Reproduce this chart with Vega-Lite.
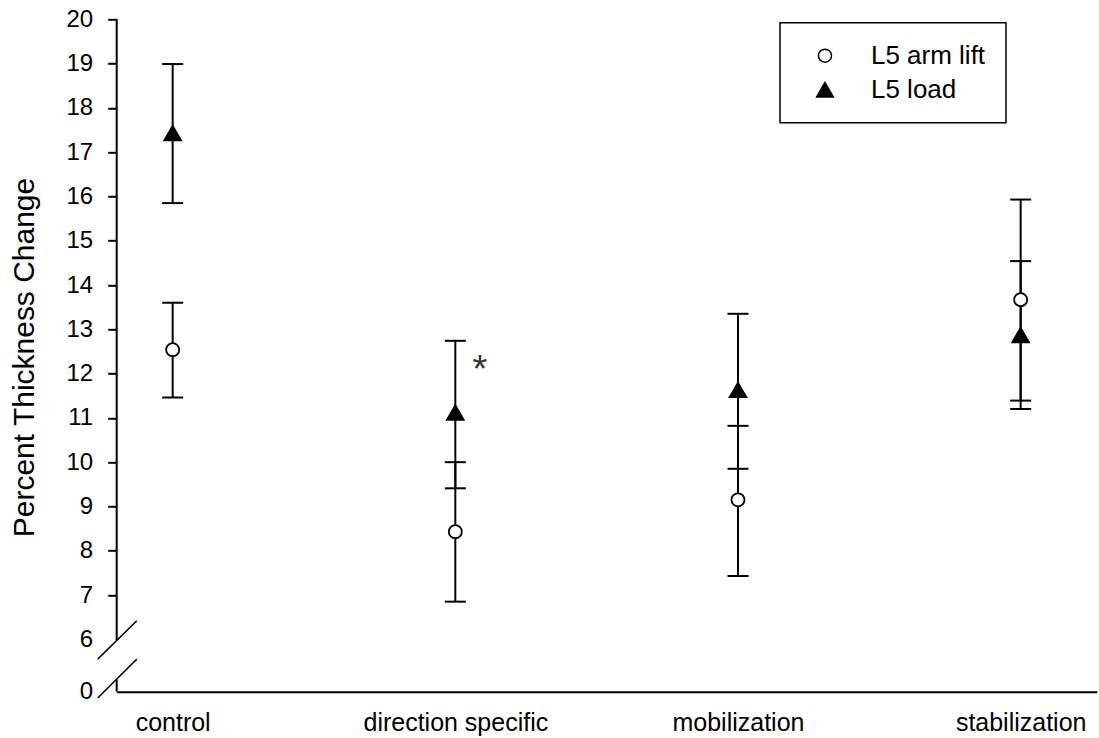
{
  "$schema": "https://vega.github.io/schema/vega-lite/v6.json",
  "width": 980,
  "height": 672.4,
  "autosize": {"type": "none"},
  "padding": {"left": 116.7, "top": 19.3, "right": 2, "bottom": 46.3},
  "background": "white",
  "config": {
    "view": {"stroke": null},
    "font": "Liberation Sans",
    "axis": {"grid": false},
    "legend": {"strokeWidth": 1.5}
  },
  "datasets": {
    "stats": [
      {"group": "control", "pos": 1, "series": "L5 arm lift", "mean": 12.54, "lower": 11.46, "upper": 13.60},
      {"group": "control", "pos": 1, "series": "L5 load", "mean": 17.43, "lower": 15.85, "upper": 18.99},
      {"group": "direction specific", "pos": 2, "series": "L5 arm lift", "mean": 8.43, "lower": 6.85, "upper": 10.00},
      {"group": "direction specific", "pos": 2, "series": "L5 load", "mean": 11.12, "lower": 9.41, "upper": 12.74},
      {"group": "mobilization", "pos": 3, "series": "L5 arm lift", "mean": 9.15, "lower": 7.43, "upper": 10.82},
      {"group": "mobilization", "pos": 3, "series": "L5 load", "mean": 11.63, "lower": 9.85, "upper": 13.35},
      {"group": "stabilization", "pos": 4, "series": "L5 arm lift", "mean": 13.67, "lower": 11.39, "upper": 15.93},
      {"group": "stabilization", "pos": 4, "series": "L5 load", "mean": 12.87, "lower": 11.20, "upper": 14.54}
    ],
    "axisLine": [
      {"x": 0.802, "y": 5.97, "y2": 20},
      {"x": 0.802, "y": 4.817, "y2": 5.095}
    ],
    "breaks": [
      {"x": 0.735, "x2": 0.873, "y": 5.553, "y2": 6.418},
      {"x": 0.735, "x2": 0.873, "y": 4.673, "y2": 5.553}
    ],
    "notes": [
      {"pos": 2.087, "value": 11.8, "text": "*"}
    ]
  },
  "layer": [
    {
      "data": {"name": "stats"},
      "mark": {"type": "rule", "strokeWidth": 2, "color": "black"},
      "encoding": {
        "x": {
          "field": "pos", "type": "quantitative", "title": null,
          "scale": {"domain": [0.802, 4.269], "nice": false, "zero": false},
          "axis": {
            "values": [1, 2, 3, 4],
            "labelExpr": "['', 'control', 'direction specific', 'mobilization', 'stabilization'][datum.value]",
            "title": null, "ticks": false, "tickSize": 0, "labelPadding": 19,
            "labelFontSize": 25, "labelColor": "black", "labelFlush": false, "labelLimit": 500,
            "domainColor": "black", "domainWidth": 2
          }
        },
        "y": {
          "field": "lower", "type": "quantitative", "title": "Percent Thickness Change",
          "scale": {"domain": [4.817, 20], "nice": false, "zero": false},
          "axis": {
            "values": [4.817, 6, 7, 8, 9, 10, 11, 12, 13, 14, 15, 16, 17, 18, 19, 20],
            "format": "d",
            "labelExpr": "datum.value < 5 ? '0' : datum.label",
            "domain": false, "tickSize": 9, "tickWidth": 2, "tickColor": "black",
            "tickOpacity": {"condition": {"test": "datum.value < 6.5", "value": 0}, "value": 1},
            "labelPadding": 15, "labelFontSize": 24, "labelColor": "black", "labelOverlap": false,
            "title": "Percent Thickness Change", "titleFontSize": 30, "titleFontWeight": "normal",
            "titleColor": "black", "titleX": -92, "titleY": 337.7, "titleAngle": -90,
            "titleAlign": "center", "titleBaseline": "middle", "titleLimit": 700
          }
        },
        "y2": {"field": "upper"}
      }
    },
    {
      "data": {"name": "stats"},
      "mark": {"type": "tick", "orient": "horizontal", "size": 21, "thickness": 2, "color": "black", "opacity": 1},
      "encoding": {
        "x": {"field": "pos", "type": "quantitative", "title": null},
        "y": {"field": "upper", "type": "quantitative", "title": "Percent Thickness Change"}
      }
    },
    {
      "data": {"name": "stats"},
      "mark": {"type": "tick", "orient": "horizontal", "size": 21, "thickness": 2, "color": "black", "opacity": 1},
      "encoding": {
        "x": {"field": "pos", "type": "quantitative", "title": null},
        "y": {"field": "lower", "type": "quantitative", "title": "Percent Thickness Change"}
      }
    },
    {
      "data": {"name": "axisLine"},
      "mark": {"type": "rule", "strokeWidth": 2, "color": "black"},
      "encoding": {
        "x": {"field": "x", "type": "quantitative", "title": null},
        "y": {"field": "y", "type": "quantitative", "title": "Percent Thickness Change"},
        "y2": {"field": "y2"}
      }
    },
    {
      "data": {"name": "breaks"},
      "mark": {"type": "rule", "strokeWidth": 1.5, "color": "black"},
      "encoding": {
        "x": {"field": "x", "type": "quantitative", "title": null},
        "x2": {"field": "x2"},
        "y": {"field": "y", "type": "quantitative", "title": "Percent Thickness Change"},
        "y2": {"field": "y2"}
      }
    },
    {
      "data": {"name": "stats"},
      "mark": {"type": "point", "filled": true, "stroke": "black", "strokeWidth": 1.8, "opacity": 1},
      "encoding": {
        "x": {"field": "pos", "type": "quantitative", "title": null},
        "y": {"field": "mean", "type": "quantitative", "title": "Percent Thickness Change"},
        "shape": {
          "field": "series", "type": "nominal",
          "scale": {"domain": ["L5 arm lift", "L5 load"], "range": ["circle", "triangle-up"]},
          "legend": {
            "title": null, "orient": "none", "legendX": 663.3, "legendY": 3.4,
            "strokeColor": "black", "fillColor": "white", "padding": 20,
            "labelFontSize": 26, "labelColor": "black", "labelOffset": 33,
            "rowPadding": 8, "symbolOffset": 12,
            "encode": {"symbols": {"update": {"stroke": {"value": "black"}, "strokeWidth": {"value": 1.8}}}}
          }
        },
        "fill": {
          "field": "series", "type": "nominal",
          "scale": {"domain": ["L5 arm lift", "L5 load"], "range": ["white", "black"]},
          "legend": {
            "title": null, "orient": "none", "legendX": 663.3, "legendY": 3.4,
            "strokeColor": "black", "fillColor": "white", "padding": 20,
            "labelFontSize": 26, "labelColor": "black", "labelOffset": 33,
            "rowPadding": 8, "symbolOffset": 12,
            "encode": {"symbols": {"update": {"stroke": {"value": "black"}, "strokeWidth": {"value": 1.8}}}}
          }
        },
        "size": {
          "field": "series", "type": "nominal",
          "scale": {"domain": ["L5 arm lift", "L5 load"], "range": [170, 280]},
          "legend": {
            "title": null, "orient": "none", "legendX": 663.3, "legendY": 3.4,
            "strokeColor": "black", "fillColor": "white", "padding": 20,
            "labelFontSize": 26, "labelColor": "black", "labelOffset": 33,
            "rowPadding": 8, "symbolOffset": 12,
            "encode": {"symbols": {"update": {"stroke": {"value": "black"}, "strokeWidth": {"value": 1.8}}}}
          }
        }
      }
    },
    {
      "data": {"name": "notes"},
      "mark": {"type": "text", "fontSize": 38, "color": "#333333", "baseline": "alphabetic", "align": "center"},
      "encoding": {
        "x": {"field": "pos", "type": "quantitative", "title": null},
        "y": {"field": "value", "type": "quantitative", "title": "Percent Thickness Change"},
        "text": {"field": "text"}
      }
    }
  ]
}
